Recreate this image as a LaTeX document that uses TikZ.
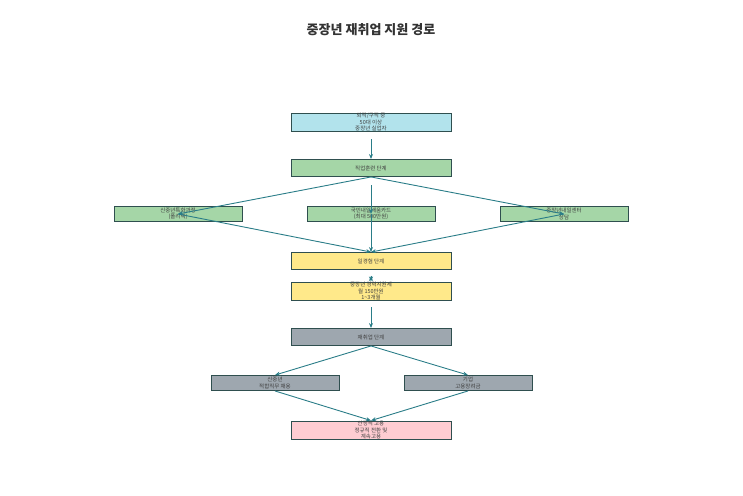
\documentclass[tikz,border=0pt]{standalone}
\usepackage{fontspec}
\setmainfont{Noto Sans CJK KR}
\usetikzlibrary{arrows.meta}
\definecolor{edge}{HTML}{2A7D88}
\definecolor{bd}{HTML}{2F4F4F}
\definecolor{cA}{HTML}{B2E3EC}
\definecolor{cG}{HTML}{A5D6A7}
\definecolor{cY}{HTML}{FFE98A}
\definecolor{cS}{HTML}{9EA7AF}
\definecolor{cP}{HTML}{FFCDD2}
\begin{document}
\begin{tikzpicture}[x=1pt,y=-1pt,
 box/.style={draw=bd,line width=0.9pt,minimum height=17pt,inner sep=0pt,font=\fontsize{5.5}{6.5}\selectfont,text=black!75,align=center},
 wide/.style={box,minimum width=160pt},
 narrow/.style={box,minimum width=128pt,minimum height=15pt},
 arr/.style={draw=edge,line width=0.9pt,-{Stealth[length=5pt,width=4pt]}}]
\useasboundingbox (0,0) rectangle (743,495);
\node[font=\bfseries\fontsize{13}{15}\selectfont,text=black!80] (t) at (371,30) {중장년 재취업 지원 경로};
\node[wide,fill=cA] (a) at (371,122) {퇴직/구직 중\\50대 이상\\중장년 실업자};
\node[wide,fill=cG] (b) at (371,168) {직업훈련 단계};
\node[narrow,fill=cG] (c1) at (178,214) {신중년특화과정\\(폴리텍)};
\node[narrow,fill=cG] (c2) at (371,214) {국민내일배움카드\\(최대 500만원)};
\node[narrow,fill=cG] (c3) at (564,214) {중장년내일센터\\상담};
\node[wide,fill=cY] (d) at (371,261) {일경험 단계};
\node[wide,fill=cY,minimum height=15pt] (e) at (371,291) {중장년 경력지원제\\월 150만원\\1\textasciitilde3개월};
\node[wide,fill=cS] (f) at (371,337) {재취업 단계};
\node[narrow,fill=cS] (g1) at (275,383) {신중년\\적합직무 채용};
\node[narrow,fill=cS] (g2) at (468,383) {기업\\고용장려금};
\node[wide,fill=cP] (h) at (371,430) {안정적 고용\\정규직 전환 및\\계속고용};
\coordinate (a1) at (371,139);
\coordinate (b1) at (371,185);
\draw[arr] (a1) -- (b.north);
\draw[arr] (b.south) -- (c1.center);
\draw[arr] (b1) -- (c2.center);
\draw[arr] (b.south) -- (c3.center);
\draw[arr] (c1.center) -- (d.north);
\draw[arr] (c2.center) -- (d.north);
\draw[arr] (c3.center) -- (d.north);
\draw[arr] (d.south) ++(0,6) coordinate (d1);
\draw[arr] (d1) -- (e.north);
\coordinate (e1) at (371,307);
\draw[arr] (e1) -- (f.north);
\draw[arr] (f.south) -- (g1.north);
\draw[arr] (f.south) -- (g2.north);
\draw[arr] (g1.south) -- (h.north);
\draw[arr] (g2.south) -- (h.north);
\end{tikzpicture}
\end{document}
